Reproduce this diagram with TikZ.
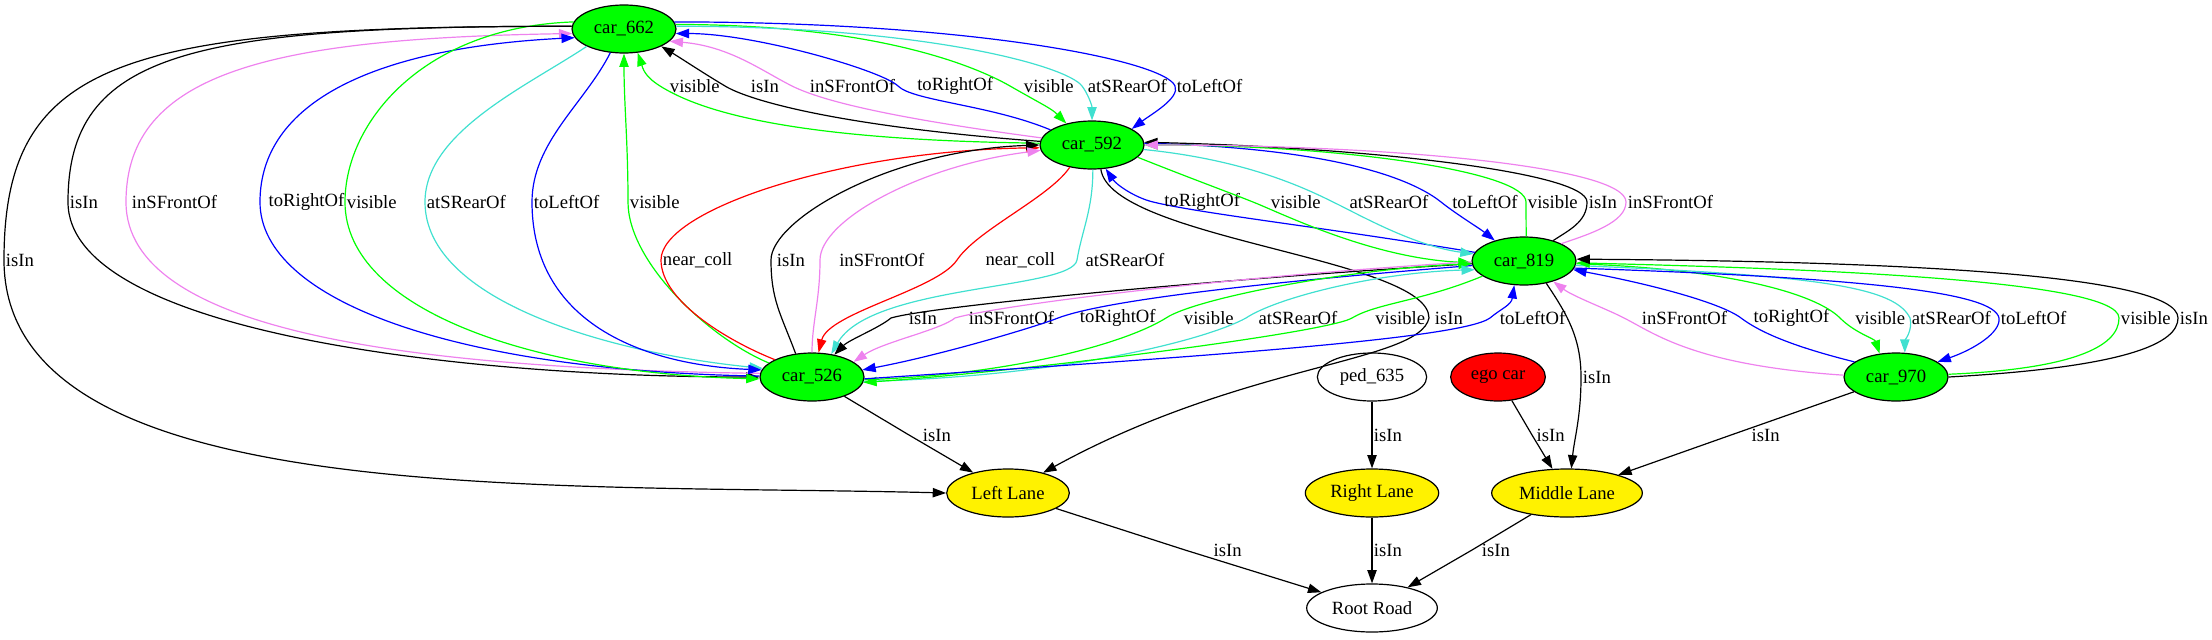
\documentclass[tikz,border=0pt]{standalone}
\usepackage{fontspec}
\setmainfont{Liberation Serif}
\usetikzlibrary{arrows.meta,shapes.geometric}

\definecolor{gvgreen}{RGB}{0,255,0}
\definecolor{gvblue}{RGB}{0,0,255}
\definecolor{gvviolet}{RGB}{238,130,238}
\definecolor{gvturq}{RGB}{64,224,208}
\definecolor{gvred}{RGB}{255,0,0}

\begin{document}
\begin{tikzpicture}[
  x=0.75pt, y=-0.75pt,
  font=\fontsize{14}{17}\selectfont,
  rel/.style={-{Triangle[length=10pt,width=7pt]}, line width=0.9pt},
  eisin/.style={rel, draw=black},
  evis/.style={rel, draw=gvgreen},
  efront/.style={rel, draw=gvviolet},
  erear/.style={rel, draw=gvturq},
  eleft/.style={rel, draw=gvblue},
  eright/.style={rel, draw=gvblue},
  ecoll/.style={rel, draw=gvred},
  lbl/.style={anchor=west, inner sep=1pt},
  obj/.style={ellipse, draw=black, line width=0.9pt, minimum height=36pt, inner sep=0pt},
  car/.style={obj, fill=gvgreen, minimum width=78pt},
  lane/.style={obj, fill=yellow}
]
\useasboundingbox (0,0) rectangle (2212,639);

% Objects
\node[car] (car662) at (624,29) {car\_662};
\node[car] (car592) at (1092,145) {car\_592};
\node[car] (car819) at (1524,261) {car\_819};
\node[car] (car526) at (812,377) {car\_526};
\node[obj, minimum width=82pt] (ped635) at (1372,377) {ped\_635};
\node[obj, fill=gvred, minimum width=71pt] (egocar) at (1498,377) {ego car};
\node[car] (car970) at (1896,377) {car\_970};

% Lanes and road
\node[lane, minimum width=92pt] (leftlane) at (1008,493) {Left Lane};
\node[lane, minimum width=100pt] (rightlane) at (1372,493) {Right Lane};
\node[lane, minimum width=113pt] (middlelane) at (1567,493) {Middle Lane};
\node[obj, minimum width=98pt] (rootroad) at (1372,608) {Root Road};

% car_662 <-> car_592
\draw[evis] (car592.178) .. controls +(-250,-3) and +(40,25) .. (660,86) node[lbl,xshift=6pt] (l1) {visible} .. controls +(-16,-10) and +(5,15) .. (car662.-60);
\draw[eisin] (car592.176) .. controls +(-200,-15) and +(25,15) .. (725,86) node[lbl,xshift=18pt] (l2) {isIn} .. controls +(-25,-15) and +(20,12) .. (car662.-25);
\draw[efront] (car592.172) .. controls +(-150,-20) and +(30,15) .. (792,86) node[lbl,xshift=12pt] (l3) {inSFrontOf} .. controls +(-30,-15) and +(60,5) .. (car662.-15);
\draw[eright] (car592.160) .. controls +(-60,-25) and +(15,15) .. (898,86) node[lbl,xshift=13pt] (l4) {toRightOf} .. controls +(-15,-15) and +(80,0) .. (car662.-5);
\draw[evis] (car662.5) .. controls +(200,0) and +(-35,-20) .. (1010,86) node[lbl,xshift=9pt] (l5) {visible} .. controls +(35,20) and +(-15,-15) .. (car592.140);
\draw[erear] (car662.3) .. controls +(250,0) and +(-15,-20) .. (1082,86) node[lbl,xshift=3pt] (l6) {atSRearOf} .. controls +(6,8) and +(0,-15) .. (car592.north);
\draw[eleft] (car662.8) .. controls +(300,0) and +(-10,-25) .. (1175,86) node[lbl] (l7) {toLeftOf} .. controls +(5,12) and +(20,-15) .. (car592.22);

% car_662 <-> car_526
\draw[eisin] (car662.177) .. controls +(-380,0) and +(0,-150) .. (68,202) node[lbl] (l8) {isIn} .. controls +(0,130) and +(-300,0) .. (car526.west);
\draw[efront] (car526.176) .. controls +(-350,-5) and +(0,130) .. (126,202) node[lbl,xshift=3pt] (l9) {inSFrontOf} .. controls +(0,-130) and +(-300,5) .. (car662.185);
\draw[eright] (car526.179) .. controls +(-300,-5) and +(0,100) .. (260,202) node[lbl,xshift=5pt] (l10) {toRightOf} .. controls +(0,-100) and +(-200,10) .. (car662.190);
\draw[evis] (car662.172) .. controls +(-150,5) and +(0,-80) .. (345,202) node[lbl] (l11) {visible} .. controls +(0,110) and +(-220,-5) .. (car526.182);
\draw[erear] (car662.205) .. controls +(-60,40) and +(0,-70) .. (425,202) node[lbl] (l12) {atSRearOf} .. controls +(0,100) and +(-150,-15) .. (car526.170);
\draw[eleft] (car662.-120) .. controls +(-25,50) and +(0,-60) .. (532,202) node[lbl] (l13) {toLeftOf} .. controls +(0,120) and +(-120,-5) .. (car526.172);
\draw[evis] (car526.162) .. controls +(-60,-25) and +(0,60) .. (628,202) node[lbl] (l14) {visible} .. controls +(0,-60) and +(0,50) .. (car662.south);
\draw[eisin] (car662.177) .. controls +(-450,0) and +(0,-200) .. (4,260) node[lbl] (l15) {isIn} .. controls +(0,250) and +(-400,-10) .. (leftlane.west);

% car_592 <-> car_526
\draw[ecoll] (car526.155) .. controls +(-50,-20) and +(0,40) .. (661,260) node[lbl] (l16) {near\_coll} .. controls +(0,-50) and +(-200,3) .. (car592.183);
\draw[eisin] (car526.125) .. controls +(-15,-40) and +(0,40) .. (771,260) node[lbl,xshift=3pt] (l17) {isIn} .. controls +(0,-40) and +(-150,5) .. (car592.180);
\draw[efront] (car526.north) .. controls +(0,-30) and +(0,40) .. (820,260) node[lbl,xshift=13pt] (l18) {inSFrontOf} .. controls +(0,-40) and +(-120,15) .. (car592.186);
\draw[ecoll] (car592.-135) .. controls +(-20,30) and +(20,-30) .. (957,260) node[lbl,xshift=20pt] (l19) {near\_coll} .. controls +(-20,30) and +(10,-40) .. (car526.75);
\draw[erear] (car592.-88) .. controls +(0,40) and +(5,-30) .. (1077,260) node[lbl,xshift=5pt] (l20) {atSRearOf} .. controls +(-5,30) and +(40,-70) .. (car526.50);

% car_592 <-> car_819
\draw[eright] (car819.170) .. controls +(-150,-25) and +(50,12) .. (1153,202) node[lbl,xshift=7pt] (l21) {toRightOf} .. controls +(-20,-5) and +(10,15) .. (car592.-60);
\draw[evis] (car592.-15) .. controls +(50,20) and +(-25,-10) .. (1253,202) node[lbl,xshift=12pt] (l22) {visible} .. controls +(30,12) and +(-100,-5) .. (car819.182);
\draw[erear] (car592.-5) .. controls +(100,10) and +(-30,-15) .. (1333,202) node[lbl,xshift=11pt] (l23) {atSRearOf} .. controls +(25,12) and +(-60,-8) .. (car819.172);
\draw[eleft] (car592.2) .. controls +(200,5) and +(-25,-20) .. (1441,202) node[lbl,xshift=7pt] (l24) {toLeftOf} .. controls +(15,12) and +(-15,-12) .. (car819.145);
\draw[evis] (car819.85) .. controls +(0,-15) and +(0,15) .. (1526,202) node[lbl] (l25) {visible} .. controls +(0,-30) and +(200,0) .. (car592.east);
\draw[eisin] (car819.35) .. controls +(15,-10) and +(0,20) .. (1587,202) node[lbl] (l26) {isIn} .. controls +(0,-30) and +(220,5) .. (car592.3);
\draw[efront] (car819.25) .. controls +(30,-10) and +(0,20) .. (1626,202) node[lbl] (l27) {inSFrontOf} .. controls +(0,-35) and +(250,0) .. (car592.east);

% car_592 -> Left Lane
\draw[eisin] (car592.-70) .. controls +(10,70) and +(0,-60) .. (1429,318) node[lbl,xshift=3pt] (l28) {isIn} .. controls +(-10,45) and +(200,-110) .. (leftlane.30);

% car_819 <-> car_526
\draw[eisin] (car819.183) .. controls +(-250,15) and +(40,-12) .. (891,318) node[lbl,xshift=12pt] (l29) {isIn} .. controls +(-12,10) and +(15,-15) .. (car526.45);
\draw[efront] (car819.181) .. controls +(-250,15) and +(40,-12) .. (955,318) node[lbl,xshift=9pt] (l30) {inSFrontOf} .. controls +(-15,12) and +(30,-20) .. (car526.20);
\draw[eright] (car819.185) .. controls +(-250,20) and +(40,-15) .. (1058,318) node[lbl,xshift=15pt] (l31) {toRightOf} .. controls +(-20,8) and +(80,-15) .. (car526.8);
\draw[evis] (car526.-3) .. controls +(150,-5) and +(-40,25) .. (1166,318) node[lbl,xshift=12pt] (l32) {visible} .. controls +(30,-20) and +(-120,5) .. (car819.183);
\draw[erear] (car526.-5) .. controls +(200,-5) and +(-40,22) .. (1246,318) node[lbl,xshift=8pt] (l33) {atSRearOf} .. controls +(30,-20) and +(-100,3) .. (car819.190);
\draw[evis] (car819.200) .. controls +(-60,25) and +(25,-15) .. (1352,318) node[lbl,xshift=16pt] (l34) {visible} .. controls +(-25,15) and +(150,-10) .. (car526.-6);
\draw[eleft] (car526.-2) .. controls +(300,-20) and +(-30,22) .. (1490,318) node[lbl,xshift=6pt] (l35) {toLeftOf} .. controls +(12,-10) and +(-3,20) .. (car819.-112);

% car_970 <-> car_819
\draw[efront] (car970.178) .. controls +(-150,-10) and +(30,15) .. (1624,318) node[lbl,xshift=12pt] (l36) {inSFrontOf} .. controls +(-15,-8) and +(20,15) .. (car819.-35);
\draw[eright] (car970.160) .. controls +(-60,-15) and +(20,15) .. (1741,318) node[lbl,xshift=8pt] (l37) {toRightOf} .. controls +(-20,-15) and +(80,15) .. (car819.-10);
\draw[evis] (car819.-3) .. controls +(150,5) and +(-25,-25) .. (1840,318) node[lbl,xshift=10pt] (l38) {visible} .. controls +(15,15) and +(-5,-15) .. (car970.125);
\draw[erear] (car819.-5) .. controls +(250,10) and +(-15,-30) .. (1910,318) node[lbl] (l39) {atSRearOf} .. controls +(3,12) and +(0,-12) .. (car970.70);
\draw[eleft] (car819.-8) .. controls +(300,10) and +(-5,-25) .. (1999,318) node[lbl] (l40) {toLeftOf} .. controls +(2,15) and +(35,-12) .. (car970.20);
\draw[evis] (car970.3) .. controls +(120,-5) and +(0,30) .. (2119,318) node[lbl] (l41) {visible} .. controls +(0,-40) and +(200,5) .. (car819.-2);
\draw[eisin] (car970.0) .. controls +(180,-10) and +(0,25) .. (2178,318) node[lbl] (l42) {isIn} .. controls +(0,-45) and +(300,2) .. (car819.2);

% isIn to lanes and road
\draw[eisin] (car819.-45) .. controls +(20,30) and +(0,-40) .. (1581,377) node[lbl] (l43) {isIn} .. controls +(0,40) and +(3,-30) .. (middlelane.80);
\draw[eisin] (car526) -- (909,435) node[lbl,xshift=9pt] (l44) {isIn} -- (leftlane);
\draw[eisin] (ped635) -- (1372,435) node[lbl] (l45) {isIn} -- (rightlane);
\draw[eisin] (egocar) -- (1532,435) node[lbl,xshift=2pt] (l46) {isIn} -- (middlelane);
\draw[eisin] (car970) -- (1731,435) node[lbl,xshift=14pt] (l47) {isIn} -- (middlelane);
\draw[eisin] (leftlane) -- (1185,550) node[lbl,xshift=20pt] (l48) {isIn} -- (rootroad);
\draw[eisin] (rightlane) -- (1372,550) node[lbl] (l49) {isIn} -- (rootroad);
\draw[eisin] (middlelane) -- (1472,550) node[lbl,xshift=6pt] (l50) {isIn} -- (rootroad);

\end{tikzpicture}
\end{document}
